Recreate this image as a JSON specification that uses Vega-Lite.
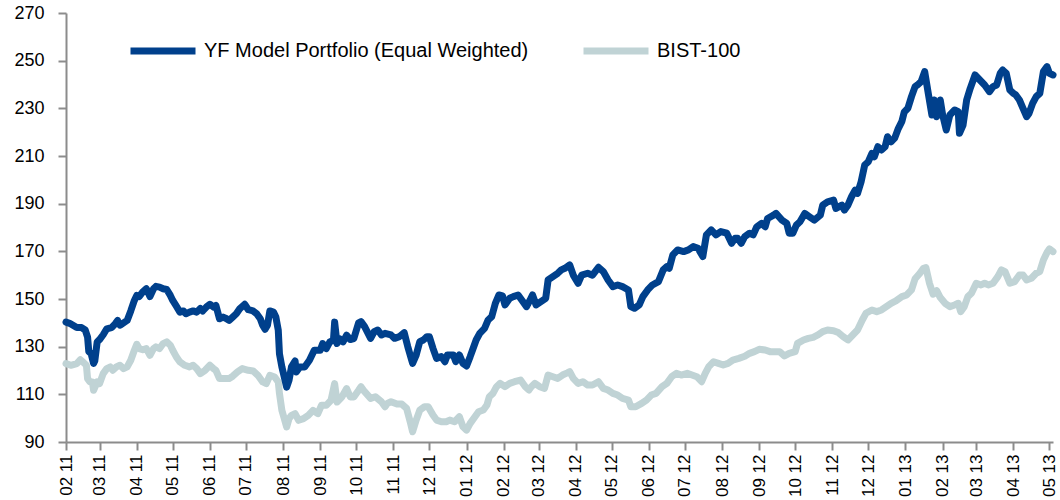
{
  "$schema": "https://vega.github.io/schema/vega-lite/v6.json",
  "width": 987,
  "height": 429,
  "autosize": {"type": "none"},
  "padding": {"left": 66, "top": 13, "right": 7, "bottom": 58},
  "background": "white",
  "config": {"view": {"stroke": null}, "font": "Liberation Sans"},
  "datasets": {
    "yf": [
      {"date":"2011-02-01","value":140.3},{"date":"2011-02-04","value":139.8},{"date":"2011-02-10","value":138.0},{"date":"2011-02-14","value":138.0},{"date":"2011-02-17","value":137.0},{"date":"2011-02-19","value":134.0},{"date":"2011-02-20","value":128.0},{"date":"2011-02-22","value":127.0},{"date":"2011-02-24","value":123.0},{"date":"2011-02-25","value":124.0},{"date":"2011-02-27","value":132.0},
      {"date":"2011-03-01","value":133.0},{"date":"2011-03-04","value":135.0},{"date":"2011-03-07","value":137.5},{"date":"2011-03-11","value":138.0},{"date":"2011-03-14","value":139.6},{"date":"2011-03-16","value":141.0},{"date":"2011-03-18","value":139.0},{"date":"2011-03-21","value":140.0},{"date":"2011-03-24","value":141.0},{"date":"2011-03-27","value":145.0},{"date":"2011-03-30","value":149.4},
      {"date":"2011-04-01","value":151.5},{"date":"2011-04-03","value":151.0},{"date":"2011-04-06","value":153.0},{"date":"2011-04-09","value":154.3},{"date":"2011-04-12","value":151.0},{"date":"2011-04-15","value":154.3},{"date":"2011-04-17","value":155.3},{"date":"2011-04-20","value":155.0},{"date":"2011-04-23","value":154.3},{"date":"2011-04-26","value":154.0},{"date":"2011-04-29","value":151.5},
      {"date":"2011-05-01","value":149.4},{"date":"2011-05-04","value":147.0},{"date":"2011-05-07","value":144.5},{"date":"2011-05-10","value":145.0},{"date":"2011-05-12","value":143.8},{"date":"2011-05-15","value":144.5},{"date":"2011-05-18","value":145.0},{"date":"2011-05-21","value":144.5},{"date":"2011-05-24","value":146.0},{"date":"2011-05-26","value":145.0},{"date":"2011-05-29","value":146.6},
      {"date":"2011-06-01","value":147.8},{"date":"2011-06-04","value":146.6},{"date":"2011-06-06","value":147.3},{"date":"2011-06-09","value":141.7},{"date":"2011-06-12","value":142.4},{"date":"2011-06-15","value":141.7},{"date":"2011-06-17","value":141.0},{"date":"2011-06-20","value":142.4},{"date":"2011-06-23","value":143.8},{"date":"2011-06-26","value":146.0},{"date":"2011-06-30","value":147.8},
      {"date":"2011-07-03","value":145.5},{"date":"2011-07-07","value":145.0},{"date":"2011-07-10","value":143.8},{"date":"2011-07-13","value":141.7},{"date":"2011-07-15","value":139.0},{"date":"2011-07-17","value":137.3},{"date":"2011-07-19","value":139.0},{"date":"2011-07-21","value":145.0},{"date":"2011-07-24","value":144.5},{"date":"2011-07-26","value":142.4},{"date":"2011-07-28","value":136.9},{"date":"2011-07-29","value":127.0},{"date":"2011-07-31","value":121.5},
      {"date":"2011-08-02","value":117.3},{"date":"2011-08-04","value":113.0},{"date":"2011-08-06","value":116.0},{"date":"2011-08-08","value":121.5},{"date":"2011-08-11","value":124.0},{"date":"2011-08-12","value":119.4},{"date":"2011-08-15","value":121.5},{"date":"2011-08-19","value":121.5},{"date":"2011-08-23","value":124.3},{"date":"2011-08-27","value":128.5},
      {"date":"2011-09-01","value":128.5},{"date":"2011-09-03","value":131.3},{"date":"2011-09-06","value":129.2},{"date":"2011-09-09","value":132.0},{"date":"2011-09-12","value":132.7},{"date":"2011-09-13","value":140.3},{"date":"2011-09-15","value":131.3},{"date":"2011-09-17","value":133.4},{"date":"2011-09-20","value":132.0},{"date":"2011-09-23","value":134.8},{"date":"2011-09-26","value":133.0},{"date":"2011-09-29","value":133.4},
      {"date":"2011-10-03","value":140.0},{"date":"2011-10-05","value":140.5},{"date":"2011-10-08","value":138.4},{"date":"2011-10-13","value":133.5},{"date":"2011-10-16","value":136.3},{"date":"2011-10-19","value":137.0},{"date":"2011-10-22","value":134.9},{"date":"2011-10-25","value":135.6},{"date":"2011-10-30","value":134.9},
      {"date":"2011-11-02","value":133.5},{"date":"2011-11-06","value":134.2},{"date":"2011-11-10","value":135.9},{"date":"2011-11-13","value":130.0},{"date":"2011-11-17","value":123.0},{"date":"2011-11-20","value":126.5},{"date":"2011-11-23","value":132.1},{"date":"2011-11-26","value":132.8},{"date":"2011-11-29","value":134.2},
      {"date":"2011-12-01","value":134.2},{"date":"2011-12-04","value":129.3},{"date":"2011-12-07","value":125.1},{"date":"2011-12-11","value":125.8},{"date":"2011-12-14","value":123.7},{"date":"2011-12-16","value":126.5},{"date":"2011-12-21","value":126.5},{"date":"2011-12-23","value":123.7},{"date":"2011-12-26","value":126.5},{"date":"2011-12-29","value":123.0},
      {"date":"2012-01-01","value":121.9},{"date":"2012-01-04","value":125.8},{"date":"2012-01-06","value":128.6},{"date":"2012-01-09","value":132.8},{"date":"2012-01-12","value":135.6},{"date":"2012-01-16","value":137.7},{"date":"2012-01-19","value":141.2},{"date":"2012-01-22","value":142.6},{"date":"2012-01-25","value":148.2},{"date":"2012-01-28","value":151.7},{"date":"2012-01-31","value":151.3},
      {"date":"2012-02-02","value":147.5},{"date":"2012-02-06","value":150.3},{"date":"2012-02-09","value":151.0},{"date":"2012-02-13","value":151.7},{"date":"2012-02-16","value":149.6},{"date":"2012-02-20","value":146.8},{"date":"2012-02-23","value":149.6},{"date":"2012-02-25","value":151.7},{"date":"2012-02-28","value":147.5},
      {"date":"2012-03-03","value":148.9},{"date":"2012-03-07","value":150.3},{"date":"2012-03-09","value":158.0},{"date":"2012-03-13","value":159.4},{"date":"2012-03-17","value":160.8},{"date":"2012-03-20","value":162.2},{"date":"2012-03-23","value":162.9},{"date":"2012-03-27","value":164.3},{"date":"2012-03-30","value":160.0},
      {"date":"2012-04-03","value":156.6},{"date":"2012-04-06","value":160.0},{"date":"2012-04-11","value":160.8},{"date":"2012-04-15","value":160.0},{"date":"2012-04-20","value":163.3},{"date":"2012-04-24","value":161.5},{"date":"2012-04-28","value":158.0},
      {"date":"2012-05-02","value":155.2},{"date":"2012-05-06","value":155.9},{"date":"2012-05-10","value":155.2},{"date":"2012-05-15","value":153.8},{"date":"2012-05-17","value":146.8},{"date":"2012-05-20","value":146.1},{"date":"2012-05-24","value":147.5},{"date":"2012-05-27","value":151.0},{"date":"2012-05-31","value":153.8},
      {"date":"2012-06-04","value":155.9},{"date":"2012-06-09","value":157.3},{"date":"2012-06-13","value":162.2},{"date":"2012-06-16","value":163.6},{"date":"2012-06-18","value":162.9},{"date":"2012-06-21","value":168.5},{"date":"2012-06-25","value":170.6},{"date":"2012-06-30","value":169.9},
      {"date":"2012-07-04","value":170.6},{"date":"2012-07-08","value":172.0},{"date":"2012-07-12","value":171.3},{"date":"2012-07-16","value":167.8},{"date":"2012-07-19","value":176.9},{"date":"2012-07-23","value":179.0},{"date":"2012-07-27","value":176.9},{"date":"2012-07-31","value":178.3},
      {"date":"2012-08-05","value":177.6},{"date":"2012-08-09","value":173.4},{"date":"2012-08-12","value":175.5},{"date":"2012-08-14","value":175.5},{"date":"2012-08-17","value":173.4},{"date":"2012-08-20","value":176.2},{"date":"2012-08-24","value":177.6},{"date":"2012-08-27","value":176.9},{"date":"2012-08-30","value":180.3},
      {"date":"2012-09-03","value":181.7},{"date":"2012-09-06","value":180.3},{"date":"2012-09-08","value":183.8},{"date":"2012-09-13","value":185.2},{"date":"2012-09-15","value":185.9},{"date":"2012-09-20","value":183.1},{"date":"2012-09-24","value":181.7},{"date":"2012-09-26","value":177.6},{"date":"2012-09-29","value":177.6},
      {"date":"2012-10-02","value":181.0},{"date":"2012-10-05","value":182.4},{"date":"2012-10-09","value":185.9},{"date":"2012-10-13","value":184.5},{"date":"2012-10-17","value":183.1},{"date":"2012-10-22","value":185.2},{"date":"2012-10-24","value":189.4},{"date":"2012-10-28","value":190.8},
      {"date":"2012-11-02","value":191.5},{"date":"2012-11-04","value":188.0},{"date":"2012-11-09","value":189.4},{"date":"2012-11-11","value":187.3},{"date":"2012-11-14","value":189.4},{"date":"2012-11-17","value":192.9},{"date":"2012-11-20","value":195.7},{"date":"2012-11-22","value":194.3},{"date":"2012-11-25","value":199.2},{"date":"2012-11-28","value":206.2},
      {"date":"2012-12-01","value":207.6},{"date":"2012-12-04","value":211.1},{"date":"2012-12-06","value":209.7},{"date":"2012-12-09","value":213.9},{"date":"2012-12-12","value":212.5},{"date":"2012-12-15","value":213.9},{"date":"2012-12-17","value":218.1},{"date":"2012-12-20","value":216.0},{"date":"2012-12-23","value":217.5},{"date":"2012-12-26","value":221.5},{"date":"2012-12-29","value":224.5},{"date":"2012-12-31","value":228.5},
      {"date":"2013-01-03","value":230.0},{"date":"2013-01-06","value":234.9},{"date":"2013-01-09","value":239.1},{"date":"2013-01-11","value":239.8},{"date":"2013-01-14","value":241.2},{"date":"2013-01-17","value":245.4},{"date":"2013-01-20","value":236.3},{"date":"2013-01-23","value":227.2},{"date":"2013-01-25","value":233.5},{"date":"2013-01-27","value":226.5},{"date":"2013-01-30","value":233.5},
      {"date":"2013-02-01","value":227.2},{"date":"2013-02-04","value":220.9},{"date":"2013-02-07","value":227.2},{"date":"2013-02-11","value":229.3},{"date":"2013-02-14","value":228.6},{"date":"2013-02-15","value":219.5},{"date":"2013-02-18","value":223.0},{"date":"2013-02-21","value":233.5},{"date":"2013-02-24","value":238.4},{"date":"2013-02-28","value":244.0},
      {"date":"2013-03-04","value":241.9},{"date":"2013-03-08","value":239.8},{"date":"2013-03-12","value":237.0},{"date":"2013-03-15","value":239.1},{"date":"2013-03-18","value":239.8},{"date":"2013-03-21","value":244.7},{"date":"2013-03-23","value":246.1},{"date":"2013-03-26","value":244.7},{"date":"2013-03-29","value":237.7},
      {"date":"2013-04-01","value":236.3},{"date":"2013-04-03","value":235.6},{"date":"2013-04-06","value":233.5},{"date":"2013-04-09","value":230.0},{"date":"2013-04-12","value":226.5},{"date":"2013-04-14","value":227.9},{"date":"2013-04-17","value":232.1},{"date":"2013-04-20","value":234.9},{"date":"2013-04-23","value":236.3},{"date":"2013-04-26","value":245.4},{"date":"2013-04-29","value":247.5},
      {"date":"2013-05-01","value":244.7},{"date":"2013-05-04","value":244.0}
    ],
    "bist": [
      {"date":"2011-02-01","value":122.9},{"date":"2011-02-05","value":122.2},{"date":"2011-02-10","value":122.9},{"date":"2011-02-13","value":124.5},{"date":"2011-02-15","value":123.6},{"date":"2011-02-18","value":122.2},{"date":"2011-02-19","value":116.6},{"date":"2011-02-21","value":115.2},{"date":"2011-02-23","value":115.2},{"date":"2011-02-24","value":111.7},{"date":"2011-02-27","value":115.2},
      {"date":"2011-03-01","value":114.5},{"date":"2011-03-04","value":118.7},{"date":"2011-03-07","value":120.8},{"date":"2011-03-10","value":121.5},{"date":"2011-03-12","value":120.1},{"date":"2011-03-15","value":121.5},{"date":"2011-03-18","value":122.2},{"date":"2011-03-21","value":120.8},{"date":"2011-03-24","value":121.5},{"date":"2011-03-27","value":124.3},{"date":"2011-03-30","value":128.5},
      {"date":"2011-04-01","value":131.0},{"date":"2011-04-03","value":129.2},{"date":"2011-04-06","value":128.7},{"date":"2011-04-09","value":129.2},{"date":"2011-04-12","value":126.4},{"date":"2011-04-15","value":129.2},{"date":"2011-04-17","value":129.9},{"date":"2011-04-20","value":129.2},{"date":"2011-04-23","value":131.3},{"date":"2011-04-26","value":132.0},{"date":"2011-04-29","value":130.6},
      {"date":"2011-05-01","value":128.5},{"date":"2011-05-04","value":125.7},{"date":"2011-05-07","value":123.6},{"date":"2011-05-11","value":122.2},{"date":"2011-05-15","value":121.5},{"date":"2011-05-18","value":122.2},{"date":"2011-05-21","value":120.8},{"date":"2011-05-24","value":118.7},{"date":"2011-05-28","value":120.1},
      {"date":"2011-06-01","value":122.2},{"date":"2011-06-04","value":120.8},{"date":"2011-06-06","value":120.1},{"date":"2011-06-09","value":116.6},{"date":"2011-06-13","value":116.6},{"date":"2011-06-17","value":116.6},{"date":"2011-06-20","value":117.6},{"date":"2011-06-24","value":119.4},{"date":"2011-06-28","value":120.8},
      {"date":"2011-07-03","value":120.1},{"date":"2011-07-07","value":119.8},{"date":"2011-07-11","value":118.0},{"date":"2011-07-15","value":115.2},{"date":"2011-07-18","value":114.5},{"date":"2011-07-21","value":118.0},{"date":"2011-07-25","value":117.3},{"date":"2011-07-28","value":115.2},{"date":"2011-07-29","value":110.3},{"date":"2011-07-31","value":103.3},
      {"date":"2011-08-02","value":99.8},{"date":"2011-08-04","value":96.3},{"date":"2011-08-06","value":99.8},{"date":"2011-08-08","value":101.2},{"date":"2011-08-11","value":101.9},{"date":"2011-08-14","value":99.1},{"date":"2011-08-18","value":99.8},{"date":"2011-08-22","value":101.2},{"date":"2011-08-26","value":103.3},{"date":"2011-08-30","value":101.9},
      {"date":"2011-09-02","value":105.4},{"date":"2011-09-06","value":105.4},{"date":"2011-09-10","value":107.5},{"date":"2011-09-13","value":114.5},{"date":"2011-09-15","value":106.8},{"date":"2011-09-19","value":108.9},{"date":"2011-09-23","value":112.4},{"date":"2011-09-26","value":108.9},{"date":"2011-09-29","value":108.9},
      {"date":"2011-10-03","value":111.7},{"date":"2011-10-05","value":113.2},{"date":"2011-10-08","value":111.1},{"date":"2011-10-13","value":108.3},{"date":"2011-10-17","value":109.0},{"date":"2011-10-22","value":106.9},{"date":"2011-10-25","value":104.8},{"date":"2011-10-27","value":106.2},{"date":"2011-10-30","value":106.9},
      {"date":"2011-11-04","value":105.9},{"date":"2011-11-08","value":105.9},{"date":"2011-11-12","value":104.1},{"date":"2011-11-15","value":98.5},{"date":"2011-11-17","value":94.3},{"date":"2011-11-20","value":99.2},{"date":"2011-11-23","value":103.4},{"date":"2011-11-27","value":104.8},{"date":"2011-11-30","value":104.8},
      {"date":"2011-12-04","value":101.3},{"date":"2011-12-07","value":99.2},{"date":"2011-12-11","value":98.5},{"date":"2011-12-15","value":98.5},{"date":"2011-12-18","value":99.2},{"date":"2011-12-22","value":98.5},{"date":"2011-12-26","value":100.6},{"date":"2011-12-29","value":96.4},
      {"date":"2012-01-01","value":95.0},{"date":"2012-01-04","value":97.8},{"date":"2012-01-08","value":100.6},{"date":"2012-01-11","value":102.7},{"date":"2012-01-15","value":103.4},{"date":"2012-01-18","value":105.5},{"date":"2012-01-20","value":109.0},{"date":"2012-01-23","value":110.4},{"date":"2012-01-26","value":113.2},{"date":"2012-01-29","value":114.6},
      {"date":"2012-02-02","value":113.2},{"date":"2012-02-06","value":114.6},{"date":"2012-02-10","value":115.3},{"date":"2012-02-15","value":116.0},{"date":"2012-02-19","value":113.2},{"date":"2012-02-22","value":111.8},{"date":"2012-02-24","value":113.2},{"date":"2012-02-27","value":114.6},
      {"date":"2012-03-02","value":113.2},{"date":"2012-03-06","value":112.5},{"date":"2012-03-09","value":118.1},{"date":"2012-03-13","value":117.4},{"date":"2012-03-17","value":116.7},{"date":"2012-03-21","value":118.1},{"date":"2012-03-25","value":119.0},{"date":"2012-03-27","value":119.5},{"date":"2012-03-30","value":116.7},
      {"date":"2012-04-03","value":114.6},{"date":"2012-04-07","value":115.3},{"date":"2012-04-11","value":113.9},{"date":"2012-04-15","value":113.9},{"date":"2012-04-20","value":115.3},{"date":"2012-04-24","value":112.5},{"date":"2012-04-28","value":111.8},
      {"date":"2012-05-02","value":110.4},{"date":"2012-05-06","value":109.7},{"date":"2012-05-10","value":108.3},{"date":"2012-05-15","value":107.6},{"date":"2012-05-17","value":104.8},{"date":"2012-05-21","value":104.8},{"date":"2012-05-26","value":106.2},{"date":"2012-05-30","value":107.6},
      {"date":"2012-06-03","value":109.7},{"date":"2012-06-07","value":110.4},{"date":"2012-06-12","value":113.2},{"date":"2012-06-16","value":114.6},{"date":"2012-06-20","value":117.4},{"date":"2012-06-24","value":118.8},{"date":"2012-06-28","value":118.1},
      {"date":"2012-07-03","value":118.8},{"date":"2012-07-07","value":118.1},{"date":"2012-07-11","value":117.4},{"date":"2012-07-15","value":115.3},{"date":"2012-07-18","value":118.8},{"date":"2012-07-21","value":121.6},{"date":"2012-07-25","value":123.7},{"date":"2012-07-29","value":123.0},
      {"date":"2012-08-02","value":122.3},{"date":"2012-08-06","value":123.0},{"date":"2012-08-10","value":124.4},{"date":"2012-08-15","value":125.1},{"date":"2012-08-20","value":126.0},{"date":"2012-08-24","value":127.2},{"date":"2012-08-28","value":127.9},
      {"date":"2012-09-01","value":128.9},{"date":"2012-09-06","value":128.6},{"date":"2012-09-10","value":127.9},{"date":"2012-09-14","value":127.9},{"date":"2012-09-18","value":127.9},{"date":"2012-09-22","value":126.1},{"date":"2012-09-26","value":127.2},
      {"date":"2012-10-01","value":127.9},{"date":"2012-10-03","value":131.4},{"date":"2012-10-08","value":132.8},{"date":"2012-10-12","value":133.5},{"date":"2012-10-16","value":133.9},{"date":"2012-10-20","value":134.9},{"date":"2012-10-24","value":136.3},{"date":"2012-10-28","value":137.0},
      {"date":"2012-11-02","value":136.7},{"date":"2012-11-06","value":135.9},{"date":"2012-11-10","value":134.2},{"date":"2012-11-14","value":132.8},{"date":"2012-11-18","value":134.9},{"date":"2012-11-22","value":137.0},{"date":"2012-11-26","value":141.2},{"date":"2012-11-29","value":144.0},
      {"date":"2012-12-04","value":145.4},{"date":"2012-12-08","value":144.7},{"date":"2012-12-12","value":145.4},{"date":"2012-12-16","value":146.8},{"date":"2012-12-20","value":148.2},{"date":"2012-12-24","value":149.2},{"date":"2012-12-29","value":151.0},
      {"date":"2013-01-02","value":151.7},{"date":"2013-01-06","value":153.8},{"date":"2013-01-09","value":158.5},{"date":"2013-01-13","value":160.8},{"date":"2013-01-16","value":162.9},{"date":"2013-01-18","value":163.2},{"date":"2013-01-21","value":156.6},{"date":"2013-01-24","value":152.0},{"date":"2013-01-27","value":153.5},{"date":"2013-01-30","value":150.6},
      {"date":"2013-02-03","value":148.2},{"date":"2013-02-07","value":146.8},{"date":"2013-02-11","value":147.5},{"date":"2013-02-14","value":148.2},{"date":"2013-02-16","value":144.7},{"date":"2013-02-19","value":146.8},{"date":"2013-02-22","value":151.0},{"date":"2013-02-25","value":152.4},
      {"date":"2013-03-01","value":156.6},{"date":"2013-03-05","value":155.9},{"date":"2013-03-08","value":156.6},{"date":"2013-03-11","value":155.9},{"date":"2013-03-15","value":156.6},{"date":"2013-03-19","value":159.4},{"date":"2013-03-22","value":162.2},{"date":"2013-03-25","value":161.5},{"date":"2013-03-29","value":156.6},
      {"date":"2013-04-02","value":157.3},{"date":"2013-04-06","value":160.1},{"date":"2013-04-09","value":160.1},{"date":"2013-04-12","value":158.0},{"date":"2013-04-16","value":158.7},{"date":"2013-04-20","value":160.8},{"date":"2013-04-23","value":161.5},{"date":"2013-04-26","value":166.4},{"date":"2013-04-29","value":169.5},
      {"date":"2013-05-01","value":171.0},{"date":"2013-05-04","value":169.9}
    ]
  },
  "layer": [
    {
      "data": {"name": "bist"},
      "mark": {"type": "line", "strokeWidth": 7, "strokeCap": "round", "strokeJoin": "round"},
      "encoding": {"color": {"datum": "BIST-100"}}
    },
    {
      "data": {"name": "yf"},
      "mark": {"type": "line", "strokeWidth": 7, "strokeCap": "round", "strokeJoin": "round"},
      "encoding": {"color": {"datum": "YF Model Portfolio (Equal Weighted)"}}
    }
  ],
  "encoding": {
    "x": {
      "field": "date",
      "type": "temporal",
      "scale": {"type": "utc", "domain": [{"year": 2011, "month": 2, "date": 1, "utc": true}, {"year": 2013, "month": 5, "date": 4, "utc": true}]},
      "axis": {
        "title": null, "grid": false, "format": "%m %y",
        "tickCount": {"interval": "month", "step": 1},
        "labelAngle": -90, "labelFontSize": 17, "labelFont": "Liberation Sans", "labelColor": "#000000",
        "labelPadding": 4, "labelFlush": false, "labelOverlap": false, "labelBound": false,
        "domainColor": "#8C8C8C", "domainWidth": 2, "tickColor": "#8C8C8C", "tickWidth": 2, "tickSize": 8
      }
    },
    "y": {
      "field": "value",
      "type": "quantitative",
      "scale": {"domain": [90, 270], "nice": false, "zero": false},
      "axis": {
        "title": null, "grid": false, "values": [90, 110, 130, 150, 170, 190, 210, 230, 250, 270],
        "labelFontSize": 18, "labelFont": "Liberation Sans", "labelColor": "#000000",
        "labelPadding": 14, "labelFlush": false, "labelOverlap": false,
        "domainColor": "#8C8C8C", "domainWidth": 2, "tickColor": "#8C8C8C", "tickWidth": 2, "tickSize": 8
      }
    },
    "color": {
      "type": "nominal",
      "scale": {"domain": ["YF Model Portfolio (Equal Weighted)", "BIST-100"], "range": ["#00408C", "#C0D3D5"]},
      "legend": {
        "orient": "none", "legendX": 61, "legendY": 2, "direction": "horizontal", "title": null,
        "symbolType": "stroke", "symbolStrokeWidth": 7, "symbolSize": 4225,
        "labelFontSize": 20, "labelFont": "Liberation Sans", "labelColor": "#000000", "labelLimit": 600,
        "labelOffset": 5, "columnPadding": 40, "padding": 0
      }
    }
  }
}
